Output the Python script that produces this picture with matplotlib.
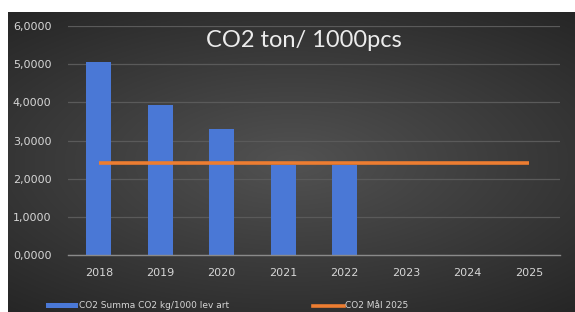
import numpy as np
import matplotlib.pyplot as plt
from matplotlib.patches import Patch
from matplotlib.lines import Line2D

years = ["2018", "2019", "2020", "2021", "2022", "2023", "2024", "2025"]
co2_summa = [5.05, 3.93, 3.29, 2.37, 2.37]          # CO2 Summa CO2 kg/1000 lev art
co2_mal = [2.41, 2.41, 2.41, 2.41, 2.41, 2.41, 2.41, 2.41]  # CO2 Mål 2025
yticks = [0, 1, 2, 3, 4, 5, 6]

fig = plt.figure(figsize=(5.75, 3.12), dpi=100)
fig.patch.set_facecolor("white")

# dark background with a soft radial gradient (Excel style)
bg = fig.add_axes([8 / 575, 0, 567 / 575, 300 / 312])
gx, gy = np.meshgrid(np.linspace(-1, 1, 300), np.linspace(-1, 1, 200))
r = np.clip(np.sqrt((gx * 0.85) ** 2 + (gy * 1.0) ** 2), 0, 1.3)
shade = 0.32 - 0.13 * r
img = np.dstack([shade, shade, shade])
bg.imshow(img, aspect="auto", extent=[0, 1, 0, 1], interpolation="bilinear")
bg.set_axis_off()

ax = fig.add_axes([68 / 575, (312 - 255) / 312, 492 / 575, 229 / 312])
ax.patch.set_alpha(0)
x = np.arange(len(years))

ax.bar(x[:len(co2_summa)], co2_summa, width=0.4, color="#4a78d6", zorder=2)
ax.plot(x, co2_mal, color="#ed7d31", linewidth=2.6, zorder=3, solid_capstyle="butt")

ax.set_xlim(-0.5, len(years) - 0.5)
ax.set_ylim(0, 6)
ax.set_yticks(yticks)
ax.set_yticklabels([f"{v:.4f}".replace(".", ",") for v in yticks])
ax.set_xticks(x)
ax.set_xticklabels(years)
ax.grid(axis="y", color="#5a5a5a", linewidth=0.9, zorder=0)
ax.tick_params(length=0, colors="#d6d6d6", labelsize=8)
ax.tick_params(axis="y", pad=12)
ax.tick_params(axis="x", pad=9)
for s in ["top", "right", "left"]:
    ax.spines[s].set_visible(False)
ax.spines["bottom"].set_color("#8a8a8a")
ax.spines["bottom"].set_linewidth(1.0)

ax.text(0.48, 0.935, "CO2 ton/ 1000pcs", transform=ax.transAxes, ha="center", va="center",
        color="#ececec", fontsize=17, family="Lato")

handles = [Patch(facecolor="#4a78d6"), Line2D([], [], color="#ed7d31", linewidth=2.6)]
labels = ["CO2 Summa CO2 kg/1000 lev art", "CO2 Mål 2025"]
leg = fig.legend(handles, labels, loc="center left", bbox_to_anchor=(38 / 575, 6 / 312),
                 ncol=2, frameon=False, fontsize=6.5, labelcolor="#d6d6d6",
                 handlelength=3.5, handleheight=0.5, handletextpad=0.1, columnspacing=9.3)

fig.savefig("out.png", dpi=100)
